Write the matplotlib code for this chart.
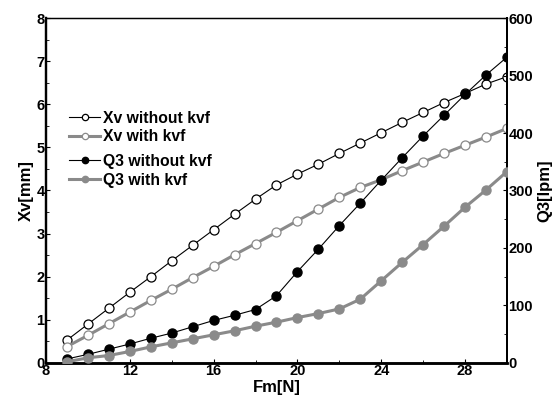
import matplotlib
matplotlib.use("Agg")
import matplotlib.pyplot as plt
from matplotlib.ticker import MultipleLocator

plt.rcParams['font.family'] = ['Liberation Sans', 'DejaVu Sans']
plt.rcParams['font.weight'] = 'bold'

fm = [9, 10, 11, 12, 13, 14, 15, 16, 17, 18, 19, 20, 21, 22, 23, 24, 25, 26, 27, 28, 29, 30]

# spool displacement, mm
xv_without = [0.53, 0.90, 1.27, 1.64, 2.00, 2.37, 2.73, 3.09, 3.45, 3.80, 4.13, 4.38,
              4.61, 4.86, 5.10, 5.34, 5.58, 5.81, 6.04, 6.25, 6.47, 6.64]
xv_with = [0.38, 0.64, 0.91, 1.18, 1.45, 1.71, 1.98, 2.24, 2.51, 2.77, 3.03, 3.30,
           3.57, 3.84, 4.07, 4.25, 4.46, 4.66, 4.86, 5.05, 5.24, 5.44]

# flow, lpm
q3_without = [7, 15, 24, 33, 43, 52, 63, 74, 83, 93, 117, 159,
              198, 239, 278, 318, 357, 395, 431, 467, 501, 532]
q3_with = [2, 9, 13, 20, 28, 35, 42, 49, 56, 64, 71, 79,
           86, 94, 111, 143, 175, 206, 238, 271, 301, 333]

grey = '#8a8a8a'

fig = plt.figure(figsize=(5.58, 4.03), dpi=100)
ax = fig.add_axes([0.0824, 0.0993, 0.8262, 0.856])
ax2 = ax.twinx()

l1, = ax.plot(fm, xv_without, '-o', color='black', lw=0.8, ms=6.5,
              mfc='white', mec='black', mew=0.9, label='Xv without kvf', zorder=3)
l2, = ax.plot(fm, xv_with, '-o', color=grey, lw=2.2, ms=6.5,
              mfc='white', mec=grey, mew=0.9, label='Xv with kvf', zorder=3)
l3, = ax2.plot(fm, q3_without, '-o', color='black', lw=0.8, ms=6.5,
               mfc='black', mec='black', label='Q3 without kvf', zorder=3)
l4, = ax2.plot(fm, q3_with, '-o', color=grey, lw=2.2, ms=6.5,
               mfc=grey, mec=grey, label='Q3 with kvf', zorder=3)

ax.set_xlim(8, 30)
ax.set_ylim(0, 8)
ax2.set_ylim(0, 600)

ax.xaxis.set_major_locator(MultipleLocator(4))
ax.xaxis.set_minor_locator(MultipleLocator(2))
ax.yaxis.set_major_locator(MultipleLocator(1))
ax.yaxis.set_minor_locator(MultipleLocator(0.5))
ax2.yaxis.set_major_locator(MultipleLocator(100))
ax2.yaxis.set_minor_locator(MultipleLocator(50))

ax.tick_params(which='both', direction='in', top=False, right=False, labelsize=10.5, pad=1)
ax.tick_params(which='major', length=3)
ax.tick_params(which='minor', length=2)
ax2.tick_params(which='both', direction='in', labelsize=10.5, pad=1)
ax2.tick_params(which='major', length=3)
ax2.tick_params(which='minor', length=2)

for a in (ax, ax2):
    a.spines['bottom'].set_linewidth(1.8)
    a.spines['left'].set_linewidth(1.6)
    a.spines['right'].set_linewidth(1.4)
    a.spines['top'].set_linewidth(0.9)

ax.set_xlabel('Fm[N]', fontsize=12, fontweight='bold', labelpad=1)
ax.set_ylabel('Xv[mm]', fontsize=12, fontweight='bold', labelpad=2)
ax2.set_ylabel('Q3[lpm]', fontsize=12, fontweight='bold', labelpad=3)

leg1 = ax2.legend(handles=[l1, l2], loc='upper left', bbox_to_anchor=(0.036, 0.75),
                  frameon=False, fontsize=11.3, handlelength=2.0, handletextpad=0.2,
                  labelspacing=0.25, markerscale=0.7, borderaxespad=0)
ax2.add_artist(leg1)
ax2.legend(handles=[l3, l4], loc='upper left', bbox_to_anchor=(0.036, 0.625),
           frameon=False, fontsize=11.3, handlelength=2.0, handletextpad=0.2,
           labelspacing=0.25, markerscale=0.7, borderaxespad=0)

fig.savefig('out.png', dpi=100)
